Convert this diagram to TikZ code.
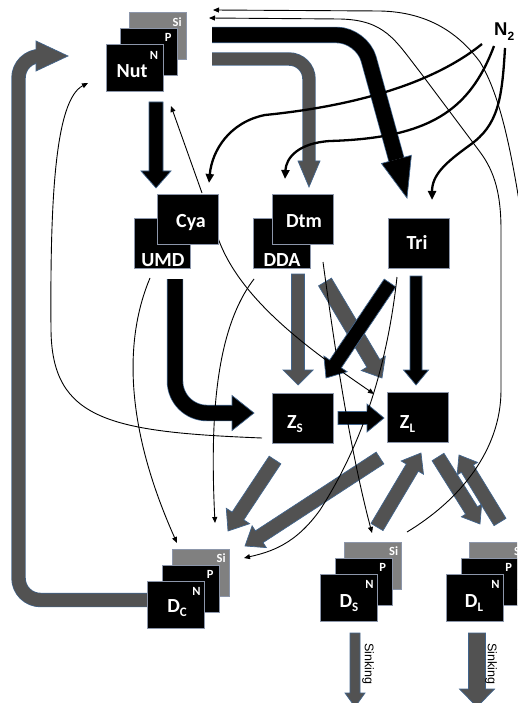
\documentclass[tikz,border=0pt]{standalone}
\usepackage{fontspec}
\newfontfamily\carlito{Carlito}
\newfontfamily\arialike{Liberation Sans}
\usetikzlibrary{arrows.meta,calc}
\pgfdeclarelayer{flows}
\pgfsetlayers{flows,main}

\definecolor{edgeblue}{RGB}{65,100,140}
\definecolor{hatch}{RGB}{82,82,82}
\definecolor{sigray}{RGB}{128,128,128}
\definecolor{boxline}{RGB}{140,150,170}

% straight block arrow: style, tail, tip, half shaft width, half head width, head length
\newcommand\blockarrow[6]{%
  \coordinate (bab) at ($(#3)!#6!(#2)$);
  \path[#1,arrowedge] ($(#2)!#4!90:(#3)$) -- ($(bab)!#4!90:(#3)$) -- ($(bab)!#5!90:(#3)$) -- (#3)
    -- ($(bab)!#5!-90:(#3)$) -- ($(bab)!#4!-90:(#3)$) -- ($(#2)!#4!-90:(#3)$) -- cycle;}

% head for a stroked (curved) block shaft: style, base, tip, half shaft width, half head width
\newcommand\blockhead[5]{%
  \fill[#1] ($(#2)!#4!90:(#3)$) -- ($(#2)!#5!90:(#3)$) -- (#3) -- ($(#2)!#5!-90:(#3)$) -- ($(#2)!#4!-90:(#3)$) -- cycle;
  \draw[arrowedge] ($(#2)!#4!90:(#3)$) -- ($(#2)!#5!90:(#3)$) -- (#3) -- ($(#2)!#5!-90:(#3)$) -- ($(#2)!#4!-90:(#3)$);}

\begin{document}
\begin{tikzpicture}[x=1pt,y=-1pt,
  arrowedge/.style={draw=edgeblue, line width=0.7pt, line join=miter},
  box/.style={rectangle, fill=black, draw=boxline, line width=0.6pt, inner sep=0pt,
              minimum width=57pt, minimum height=47pt},
  sibox/.style={box, fill=sigray},
  wide/.style={minimum width=61pt, minimum height=50pt},
  biglbl/.style={text=white, font=\carlito\bfseries\fontsize{20}{20}\selectfont, inner sep=0pt, anchor=base},
  cornerlbl/.style={text=white, font=\carlito\bfseries\fontsize{12.5}{12.5}\selectfont, inner sep=0pt, anchor=north east},
  thinflow/.style={line width=0.9pt, -{Triangle[length=6pt,width=5pt]}},
  thickflow/.style={line width=2.3pt, -{Triangle[length=9pt,width=8pt]}},
  sinklbl/.style={font=\arialike\fontsize{12.5}{12.5}\selectfont, inner sep=0pt, rotate=-90}]
\useasboundingbox (0,0) rectangle (517,703);
\clip (0,0) rectangle (517,703);

% ---------- compartments ----------
% nutrients
\node[sibox] (nutSi) at (158,36) {};
\node[box]   (nutP)  at (149,51.5) {};
\node[box]   (nut)   at (134.5,67.5) {};
\node[cornerlbl] at ($(nutSi.north east)+(-5,5)$) {Si};
\node[cornerlbl] at ($(nutP.north east)+(-6,5)$) {P};
\node[cornerlbl] at ($(nut.north east)+(-5,7)$) {N};
\node[biglbl] (nutlbl) at (132,78) {Nut};

% phytoplankton
\node[box,minimum width=56pt,minimum height=50pt] (umd) at (162,243) {};
\node[box,wide] (cya) at (187.5,219) {};
\node[biglbl] at (191,227) {Cya};
\node[biglbl] at (163,266) {UMD};

\node[box,minimum width=57pt,minimum height=50pt] (dda) at (281.5,243) {};
\node[box,wide] (dtm) at (302.5,219) {};
\node[biglbl] at (304,227) {Dtm};
\node[biglbl] at (282,266) {DDA};

\node[box,wide] (tri) at (418.5,243) {};
\node[biglbl] at (417,249) {Tri};

% zooplankton
\node[box,wide] (zs) at (302.5,418) {};
\node[biglbl] at (295,428) {Z\raisebox{-4pt}{\fontsize{13}{13}\selectfont S}};
\node[box,wide] (zl) at (417.5,417) {};
\node[biglbl] at (407.5,428) {Z\raisebox{-4pt}{\fontsize{13}{13}\selectfont L}};

% detritus
\node[sibox] (dcSi) at (201,572.5) {};
\node[box]   (dcP)  at (191,588.5) {};
\node[box]   (dc)   at (176,604.5) {};
\node[cornerlbl] at ($(dcSi.north east)+(-4,5)$) {Si};
\node[cornerlbl] at ($(dcP.north east)+(-6,5)$) {P};
\node[cornerlbl] at ($(dc.north east)+(-4,6)$) {N};
\node[biglbl] at (177,612) {D\raisebox{-4pt}{\fontsize{13}{13}\selectfont C}};

\node[sibox] (dsSi) at (372.5,566) {};
\node[box]   (dsP)  at (363.5,582) {};
\node[box]   (ds)   at (349,597.5) {};
\node[cornerlbl] at ($(dsSi.north east)+(-3,4)$) {Si};
\node[cornerlbl] at ($(dsP.north east)+(-6,5)$) {P};
\node[cornerlbl] at ($(ds.north east)+(-4,6)$) {N};
\node[biglbl] at (349,607) {D\raisebox{-4pt}{\fontsize{13}{13}\selectfont S}};

\node[sibox] (dlSi) at (497.5,566) {};
\node[box]   (dlP)  at (489.5,582) {};
\node[box]   (dl)   at (475,597.5) {};
\node[cornerlbl] at ($(dlSi.north east)+(-3,4)$) {Si};
\node[cornerlbl] at ($(dlP.north east)+(-6,5)$) {P};
\node[cornerlbl] at ($(dl.north east)+(-4,6)$) {N};
\node[biglbl] at (474,607) {D\raisebox{-4pt}{\fontsize{13}{13}\selectfont L}};

% dinitrogen
\node[anchor=base west, inner sep=0pt, font=\arialike\bfseries\fontsize{18.5}{18.5}\selectfont] (n2) at (494,36)
  {N\raisebox{-5pt}{\fontsize{12}{12}\selectfont 2}};

\node[sinklbl] at (368,664) {Sinking};
\node[sinklbl] at (491,664) {Sinking};

% ---------- flow end points ----------
\coordinate (loopA) at (150,600);  \coordinate (loopB) at (18.5,600);
\coordinate (loopC) at (18.5,56);  \coordinate (loopD) at (36,56);  \coordinate (loopTip) at (68,56);

\coordinate (nutcyaA) at (156,102); \coordinate (nutcyaB) at (156,188);

\coordinate (nuttriA) at (212,35);  \coordinate (nuttriB) at (362,35);
\coordinate (nuttriC) at (396.4,159.4); \coordinate (nuttriTip) at (407,198);

\coordinate (nutdtmA) at (212,59);  \coordinate (nutdtmB) at (309,59);
\coordinate (nutdtmC) at (309,161); \coordinate (nutdtmTip) at (309,187);

\coordinate (cyazsA) at (175,279);  \coordinate (cyazsB) at (175,413);
\coordinate (cyazsC) at (232,413);  \coordinate (cyazsTip) at (254,413);

\coordinate (ddazsA) at (298,274);  \coordinate (ddazsB) at (298,385);
\coordinate (ddazlA) at (325,282);  \coordinate (ddazlB) at (382,378);
\coordinate (trizsA) at (390,283);  \coordinate (trizsB) at (326,378);
\coordinate (trizlA) at (416,276);  \coordinate (trizlB) at (416,385);
\coordinate (zszlA)  at (338,418);  \coordinate (zszlB)  at (384,418);
\coordinate (zsdcA)  at (275,460);  \coordinate (zsdcB)  at (228,531);
\coordinate (zldcA)  at (380,458);  \coordinate (zldcB)  at (245,546);
\coordinate (dszlA)  at (377,527);  \coordinate (dszlB)  at (421,453);
\coordinate (zldlA)  at (438,457);  \coordinate (zldlB)  at (480,524);
\coordinate (dlzlA)  at (500,522);  \coordinate (dlzlB)  at (459,455);
\coordinate (dssinkA) at (355,633); \coordinate (dssinkB) at (355,707);
\coordinate (dlsinkA) at (477,633); \coordinate (dlsinkB) at (477,707);

\coordinate (cyaup)   at (202,193); \coordinate (nutlow)  at (171,106);
\coordinate (zsleft)  at (262,438); \coordinate (nutleft) at (88,83);
\coordinate (umdout)  at (150,278); \coordinate (dctop)   at (177,543);
\coordinate (ddaout)  at (254,279); \coordinate (dcmid)   at (215,523);
\coordinate (ddaright) at (323,262); \coordinate (dsin)   at (372,533);
\coordinate (triout)  at (397,277); \coordinate (dcright) at (244,558);
\coordinate (cyaout)  at (218,238); \coordinate (zlcorner) at (374,394);
\coordinate (dlout)   at (525,240); \coordinate (nuttopA) at (213,10);
\coordinate (dsout)   at (407,532); \coordinate (nuttopB) at (209,18);
\coordinate (n2a) at (482,44); \coordinate (cyain) at (209,183);
\coordinate (n2b) at (494,46); \coordinate (dtmin) at (285,179);
\coordinate (n2c) at (505,48); \coordinate (triin) at (432,200);

\begin{pgfonlayer}{flows}
% ---------- block flows ----------
% detritus recycling loop back to nutrients
\draw[edgeblue, line width=14.4pt, rounded corners=22pt] (loopA) -- (loopB) -- (loopC) -- (loopD);
\draw[hatch, line width=13pt, rounded corners=22pt] (loopA) -- (loopB) -- (loopC) -- (loopD);
\blockhead{fill=hatch}{loopD}{loopTip}{6.5pt}{15pt}

% uptake by phytoplankton
\blockarrow{fill=black}{nutcyaA}{nutcyaB}{7pt}{15pt}{17pt}

\draw[edgeblue, line width=16.4pt, rounded corners=25pt] (nuttriA) -- (nuttriB) -- (nuttriC);
\draw[black, line width=15pt, rounded corners=25pt] (nuttriA) -- (nuttriB) -- (nuttriC);
\blockhead{fill=black}{nuttriC}{nuttriTip}{7.5pt}{15.5pt}

\draw[edgeblue, line width=13.4pt, rounded corners=20pt] (nutdtmA) -- (nutdtmB) -- (nutdtmC);
\draw[hatch, line width=12pt, rounded corners=20pt] (nutdtmA) -- (nutdtmB) -- (nutdtmC);
\blockhead{fill=hatch}{nutdtmC}{nutdtmTip}{6pt}{11pt}

% grazing
\draw[edgeblue, line width=16.4pt, rounded corners=32pt] (cyazsA) -- (cyazsB) -- (cyazsC);
\draw[black, line width=15pt, rounded corners=32pt] (cyazsA) -- (cyazsB) -- (cyazsC);
\blockhead{fill=black}{cyazsC}{cyazsTip}{7.5pt}{17.5pt}

\blockarrow{fill=hatch}{ddazsA}{ddazsB}{6.5pt}{15pt}{15pt}
\blockarrow{fill=hatch}{ddazlA}{ddazlB}{7.5pt}{14pt}{17pt}
\blockarrow{fill=black}{trizsA}{trizsB}{7pt}{14pt}{17pt}
\blockarrow{fill=black}{trizlA}{trizlB}{6pt}{12.5pt}{15pt}
\blockarrow{fill=black}{zszlA}{zszlB}{6.5pt}{14pt}{17pt}

% zooplankton and detritus exchanges
\blockarrow{fill=hatch}{zsdcA}{zsdcB}{7pt}{14pt}{18pt}
\blockarrow{fill=hatch}{zldcA}{zldcB}{7pt}{13pt}{17pt}
\blockarrow{fill=hatch}{dszlA}{dszlB}{7pt}{13pt}{17pt}
\blockarrow{fill=hatch}{zldlA}{zldlB}{7pt}{12pt}{16pt}
\blockarrow{fill=hatch}{dlzlA}{dlzlB}{7pt}{12pt}{16pt}

% sinking
\blockarrow{fill=hatch}{dssinkA}{dssinkB}{5pt}{10pt}{14pt}
\blockarrow{fill=hatch}{dlsinkA}{dlsinkB}{8.5pt}{17.5pt}{18pt}

% ---------- line flows ----------
\draw[thinflow] (cyaup) -- (nutlow);
\draw[thinflow] (zsleft) .. controls (110,432) and (52,420) .. (51,330)
                         .. controls (50,200) and (55,100) .. (nutleft);
\draw[thinflow] (umdout) .. controls (126,335) and (122,420) .. (dctop);
\draw[thinflow] (ddaout) .. controls (215,330) and (210,420) .. (dcmid);
\draw[thinflow] (ddaright) .. controls (335,350) and (350,450) .. (dsin);
\draw[thinflow] (triout) .. controls (388,360) and (365,440) .. (320,510)
                         .. controls (295,545) and (270,552) .. (dcright);
\draw[thinflow] (cyaout) .. controls (240,300) and (310,350) .. (zlcorner);
\draw[thinflow] (dlout) .. controls (512,150) and (500,95) .. (480,62)
                        .. controls (460,35) and (430,12) .. (380,11) -- (nuttopA);
\draw[thinflow] (dsout) .. controls (460,500) and (501,450) .. (501,390) -- (501,230)
                        .. controls (501,195) and (495,172) .. (480,152) -- (420,72)
                        .. controls (395,40) and (385,20) .. (340,19) -- (nuttopB);

% nitrogen fixation
\draw[thickflow] (n2a) .. controls (425,90) and (335,108) .. (265,115)
                       .. controls (230,122) and (212,150) .. (cyain);
\draw[thickflow] (n2b) .. controls (470,110) and (430,138) .. (330,141)
                       .. controls (298,143) and (286,158) .. (dtmin);
\draw[thickflow] (n2c) .. controls (502,100) and (498,125) .. (470,145)
                       .. controls (445,163) and (432,175) .. (triin);
\end{pgfonlayer}
\end{tikzpicture}
\end{document}
